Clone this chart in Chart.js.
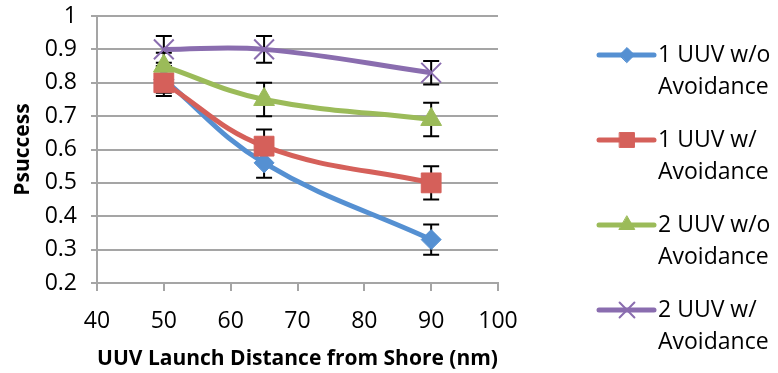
<!DOCTYPE html>
<html>
<head>
<meta charset="utf-8">
<script src="https://cdn.jsdelivr.net/npm/chart.js@4.4.1/dist/chart.umd.min.js"></script>
<style>
  html, body { margin: 0; padding: 0; background: #fff; }
  #caixa { width: 778px; height: 373px; }
</style>
</head>
<body>
<div id="caixa"><canvas id="grafico-psuccess" width="778" height="373"></canvas></div>
<script>
// distancias de lancamento (nm) e ticks dos eixos
const distancias = [50, 65, 90];
const ticksX = [40, 50, 60, 70, 80, 90, 100];
const ticksY = [0.2, 0.3, 0.4, 0.5, 0.6, 0.7, 0.8, 0.9, 1];

// Psuccess por serie, com a meia-altura da barra de erro
const umUuvSemDesvio = [0.81, 0.56, 0.33];
const erroUmUuvSemDesvio = [0.04, 0.045, 0.045];
const umUuvComDesvio = [0.8, 0.61, 0.5];
const erroUmUuvComDesvio = [0.04, 0.05, 0.05];
const doisUuvSemDesvio = [0.85, 0.75, 0.69];
const erroDoisUuvSemDesvio = [0.04, 0.05, 0.05];
const doisUuvComDesvio = [0.9, 0.9, 0.83];
const erroDoisUuvComDesvio = [0.04, 0.04, 0.035];

const nomesSeries = [
  ['1 UUV w/o', 'Avoidance'],
  ['1 UUV w/', 'Avoidance'],
  ['2 UUV w/o', 'Avoidance'],
  ['2 UUV w/', 'Avoidance'],
];

Chart.defaults.font.family = '"Open Sans", sans-serif';
Chart.defaults.color = '#000';

function retornaDataset(nome, valores, erros, cor, estilo, raio, ordem) {
  return {
    label: nome,
    data: valores.map((v, i) => ({ x: distancias[i], y: v })),
    erros: erros,
    borderColor: cor,
    backgroundColor: cor,
    borderWidth: 5,
    pointStyle: estilo,
    pointRadius: raio,
    pointBorderWidth: estilo === 'crossRot' ? 2 : 1,
    pointBackgroundColor: cor,
    pointBorderColor: cor,
    tension: 0.4,
    fill: false,
    order: ordem,
  };
}

const barrasDeErro = {
  id: 'barrasDeErro',
  beforeDatasetsDraw(chart) {
    const ctx = chart.ctx;
    const escalaX = chart.scales.x;
    const escalaY = chart.scales.y;
    ctx.save();
    ctx.strokeStyle = '#000';
    ctx.lineWidth = 2;
    chart.data.datasets.forEach((ds) => {
      ds.data.forEach((ponto, i) => {
        const px = escalaX.getPixelForValue(ponto.x);
        const topo = escalaY.getPixelForValue(ponto.y + ds.erros[i]);
        const base = escalaY.getPixelForValue(ponto.y - ds.erros[i]);
        ctx.beginPath();
        ctx.moveTo(px, topo);
        ctx.lineTo(px, base);
        ctx.moveTo(px - 8, topo);
        ctx.lineTo(px + 8, topo);
        ctx.moveTo(px - 8, base);
        ctx.lineTo(px + 8, base);
        ctx.stroke();
      });
    });
    ctx.restore();
  },
};

const legendaLateral = {
  id: 'legendaLateral',
  afterDraw(chart) {
    const ctx = chart.ctx;
    const xLinha = chart.chartArea.right + 101;
    ctx.save();
    chart.data.datasets.forEach((ds, i) => {
      const y = 55 + i * 85;
      ctx.strokeStyle = ds.borderColor;
      ctx.lineWidth = 5;
      ctx.lineCap = 'round';
      ctx.beginPath();
      ctx.moveTo(xLinha, y);
      ctx.lineTo(xLinha + 55, y);
      ctx.stroke();

      ctx.fillStyle = ds.backgroundColor;
      ctx.strokeStyle = ds.borderColor;
      ctx.lineWidth = ds.pointBorderWidth;
      Chart.helpers.drawPoint(ctx, {
        pointStyle: ds.pointStyle,
        radius: ds.pointRadius * 0.75,
        borderWidth: ds.pointBorderWidth,
        rotation: 0,
      }, xLinha + 28, y);

      ctx.fillStyle = '#000';
      ctx.font = '23px "Open Sans"';
      ctx.textBaseline = 'middle';
      ctx.textAlign = 'left';
      ds.label.forEach((linha, j) => {
        ctx.fillText(linha, xLinha + 59, y + j * 32);
      });
    });
    ctx.restore();
  },
};

const config = {
  type: 'line',
  data: {
    datasets: [
      retornaDataset(nomesSeries[0], umUuvSemDesvio, erroUmUuvSemDesvio, '#5590d2', 'rectRot', 10, 4),
      retornaDataset(nomesSeries[1], umUuvComDesvio, erroUmUuvComDesvio, '#d5605a', 'rect', 14, 3),
      retornaDataset(nomesSeries[2], doisUuvSemDesvio, erroDoisUuvSemDesvio, '#9bbb59', 'triangle', 12, 2),
      retornaDataset(nomesSeries[3], doisUuvComDesvio, erroDoisUuvComDesvio, '#8a6daf', 'crossRot', 14, 1),
    ],
  },
  options: {
    responsive: false,
    animation: false,
    layout: {
      padding: { top: 16, right: 280, left: 0, bottom: 0 },
    },
    plugins: {
      legend: { display: false },
      tooltip: { enabled: false },
    },
    scales: {
      x: {
        type: 'linear',
        min: 40,
        max: 100,
        afterBuildTicks: (escala) => {
          escala.ticks = ticksX.map((v) => ({ value: v }));
        },
        afterFit: (escala) => {
          escala.height = 90;
        },
        ticks: {
          font: { size: 23 },
          padding: 17,
          callback: (valor) => String(valor),
        },
        grid: {
          drawOnChartArea: false,
          drawTicks: true,
          tickLength: 8,
          color: '#a5a5a5',
          lineWidth: 2,
        },
        border: { color: '#a5a5a5', width: 2 },
        title: {
          display: true,
          text: 'UUV Launch Distance from Shore (nm)',
          font: { size: 21, weight: 'bold' },
          padding: { top: 0, bottom: 1 },
        },
      },
      y: {
        min: 0.2,
        max: 1,
        afterBuildTicks: (escala) => {
          escala.ticks = ticksY.map((v) => ({ value: v }));
        },
        afterFit: (escala) => {
          escala.width = 97;
          escala.paddingTop = 0;
          escala.paddingBottom = 0;
        },
        ticks: {
          font: { size: 23 },
          padding: 14,
          callback: (valor) => String(valor),
        },
        grid: {
          drawTicks: true,
          tickLength: 6,
          color: '#a5a5a5',
          lineWidth: 2,
        },
        border: { color: '#a5a5a5', width: 2 },
        title: {
          display: true,
          text: 'Psuccess',
          font: { size: 21, weight: 'bold' },
          padding: { top: 10, bottom: 0 },
        },
      },
    },
  },
  plugins: [barrasDeErro, legendaLateral],
};

let grafico = new Chart(
  document.getElementById('grafico-psuccess').getContext('2d'),
  config
);
</script>
</body>
</html>
